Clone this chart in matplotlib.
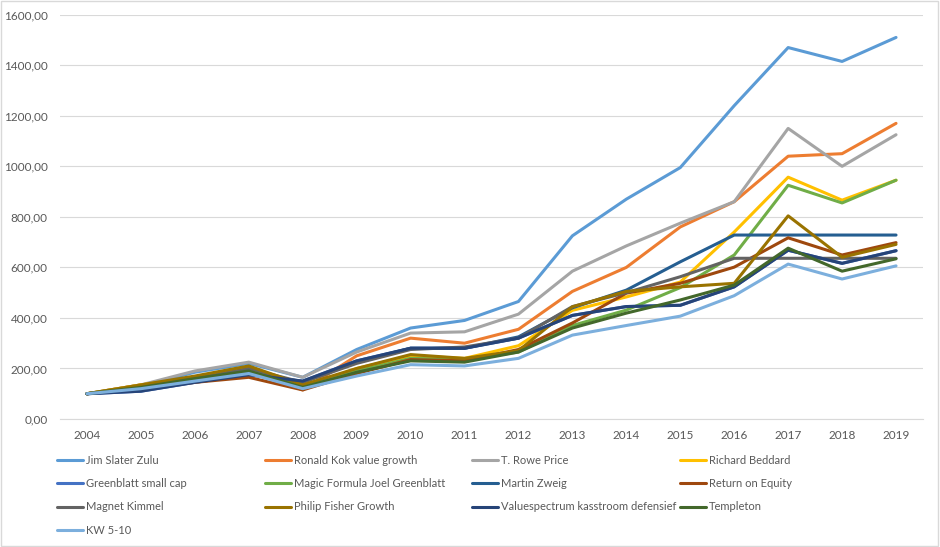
import matplotlib
matplotlib.use("Agg")
import matplotlib.pyplot as plt
from matplotlib.ticker import FuncFormatter, MultipleLocator
from matplotlib.patches import Rectangle

years = ["2004", "2005", "2006", "2007", "2008", "2009", "2010", "2011",
         "2012", "2013", "2014", "2015", "2016", "2017", "2018", "2019"]

names = ["Jim Slater Zulu", "Ronald Kok value growth", "T. Rowe Price", "Richard Beddard",
         "Greenblatt small cap", "Magic Formula Joel Greenblatt", "Martin Zweig", "Return on Equity",
         "Magnet Kimmel", "Philip Fisher Growth", "Valuespectrum kasstroom defensief", "Templeton",
         "KW 5-10"]

colors = ["#5B9BD5", "#ED7D31", "#A5A5A5", "#FFC000", "#4472C4", "#70AD47", "#255E91",
          "#9E480E", "#636363", "#997300", "#264478", "#43682B", "#7CAFDD"]

jim_slater = [100, 130, 185, 220, 165, 275, 360, 390, 465, 725, 870, 995, 1240, 1470, 1415, 1510]
ronald_kok = [100, 135, 160, 195, 115, 250, 320, 300, 355, 505, 600, 760, 860, 1040, 1050, 1170]
t_rowe = [100, 135, 190, 225, 165, 265, 340, 345, 415, 585, 685, 775, 860, 1150, 1000, 1125]
beddard = [100, 135, 165, 205, 125, 200, 250, 240, 290, 430, 483, 542, 740, 957, 866, 945]
greenblatt_sc = [100, 110, 145, 175, 150, 230, 280, 280, 320, 410, 445, 450, 523, 668, 616, 666]
magic_formula = [100, 130, 155, 185, 130, 190, 240, 235, 265, 370, 431, 520, 649, 925, 855, 945]
martin_zweig = [100, 115, 150, 185, 145, 225, 280, 280, 325, 440, 510, 622, 728, 728, 728, 728]
return_equity = [100, 120, 145, 165, 115, 180, 235, 230, 275, 380, 498, 537, 601, 717, 649, 698]
magnet_kimmel = [100, 130, 160, 200, 145, 220, 275, 285, 320, 445, 500, 563, 636, 636, 636, 636]
philip_fisher = [100, 135, 170, 210, 135, 200, 255, 240, 270, 444, 505, 523, 537, 804, 640, 691]
valuespectrum = [100, 110, 145, 175, 150, 230, 280, 280, 320, 410, 445, 450, 523, 668, 616, 666]
templeton = [100, 125, 160, 190, 125, 185, 230, 225, 265, 360, 419, 471, 530, 676, 585, 634]
kw_5_10 = [100, 120, 150, 180, 120, 170, 215, 210, 240, 332, 370, 407, 488, 613, 554, 606]

series = [jim_slater, ronald_kok, t_rowe, beddard, greenblatt_sc, magic_formula, martin_zweig,
          return_equity, magnet_kimmel, philip_fisher, valuespectrum, templeton, kw_5_10]

plt.rcParams['font.family'] = ['Lato', 'DejaVu Sans']

fig = plt.figure(figsize=(9.4, 5.47), dpi=100)
ax = fig.add_axes([60 / 940, 128 / 547, 863 / 940, 404.3 / 547])

handles = []
for vals, name, c in zip(series, names, colors):
    h, = ax.plot(range(len(years)), vals, color=c, lw=2.2, label=name,
                 solid_joinstyle='round', solid_capstyle='round')
    handles.append(h)

ax.set_xlim(-0.5, len(years) - 0.5)
ax.set_ylim(0, 1600)
ax.yaxis.set_major_locator(MultipleLocator(200))
ax.yaxis.set_major_formatter(FuncFormatter(lambda v, p: f"{v:.2f}".replace('.', ',')))
ax.set_xticks(range(len(years)))
ax.set_xticklabels(years)
ax.grid(axis='y', color='#D9D9D9', lw=0.8)
ax.set_axisbelow(True)
for s in ['top', 'right', 'left']:
    ax.spines[s].set_visible(False)
ax.spines['bottom'].set_color('#D9D9D9')
ax.spines['bottom'].set_linewidth(0.8)
ax.tick_params(length=0, colors='#595959', labelsize=8.5)
ax.tick_params(axis='y', pad=9)
ax.tick_params(axis='x', pad=8)

# legend: 4 evenly spaced columns like Excel
col_x = [57, 265, 472, 680]
for col in range(4):
    hs = handles[col::4]
    fig.legend(handles=hs, labels=[h.get_label() for h in hs],
               loc='upper left', bbox_to_anchor=(col_x[col] / 940, 1 - 455 / 547),
               frameon=False, fontsize=8, handlelength=2.35, handletextpad=0.25,
               labelspacing=1.1, borderaxespad=0, borderpad=0, labelcolor='#595959')

fig.patches.append(Rectangle((0.001, 0.002), 0.997, 0.996, transform=fig.transFigure,
                             fill=False, edgecolor='#D9D9D9', lw=1))

plt.savefig("out.png", dpi=100)
